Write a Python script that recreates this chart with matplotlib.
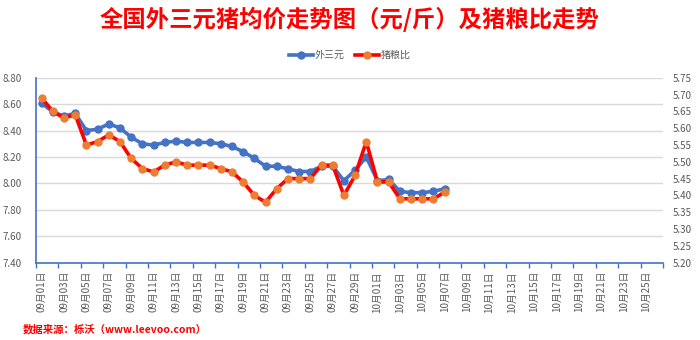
import matplotlib
matplotlib.use("Agg")
import matplotlib.pyplot as plt
import pandas as pd

plt.rcParams['font.family'] = ['Noto Sans CJK SC', 'DejaVu Sans']

# Category axis: every day from 1 Sep to 26 Oct
dates = pd.date_range("2023-09-01", "2023-10-26", freq="D")
categories = [f"{d.month:02d}月{d.day:02d}日" for d in dates]

# 外三元 average price (元/斤), 09-01 .. 10-07
price = [8.61, 8.54, 8.51, 8.53, 8.40, 8.41, 8.45, 8.42, 8.35, 8.30,
         8.29, 8.31, 8.32, 8.31, 8.31, 8.31, 8.30, 8.28, 8.24, 8.19,
         8.13, 8.13, 8.11, 8.09, 8.09, 8.13, 8.13, 8.02, 8.10, 8.20,
         8.02, 8.03, 7.94, 7.93, 7.93, 7.94, 7.96]

# 猪粮比 (hog-to-grain ratio), same days
ratio = [5.69, 5.65, 5.63, 5.64, 5.55, 5.56, 5.58, 5.56, 5.51, 5.48,
         5.47, 5.49, 5.50, 5.49, 5.49, 5.49, 5.48, 5.47, 5.44, 5.40,
         5.38, 5.42, 5.45, 5.45, 5.45, 5.49, 5.49, 5.40, 5.46, 5.56,
         5.44, 5.44, 5.39, 5.39, 5.39, 5.39, 5.41]

left_ticks = [7.40, 7.60, 7.80, 8.00, 8.20, 8.40, 8.60, 8.80]
right_ticks = [5.20, 5.25, 5.30, 5.35, 5.40, 5.45, 5.50, 5.55, 5.60, 5.65, 5.70, 5.75]

BLUE = "#4472C4"
RED = "#FF0000"
ORANGE = "#ED7D31"
GRID = "#D9D9D9"
TXT = "#595959"

fig = plt.figure(figsize=(7, 3.4), dpi=100)
ax = fig.add_axes([36 / 700, 1 - 262.7 / 340, 627 / 700, 185 / 340])
ax2 = ax.twinx()

x_price = list(range(len(price)))
x_ratio = list(range(len(ratio)))

l1, = ax.plot(x_price, price, color=BLUE, lw=2.6, marker="o", ms=5,
              mfc=BLUE, mec=BLUE, label="外三元", zorder=3)
l2, = ax2.plot(x_ratio, ratio, color=RED, lw=2.6, marker="o", ms=5,
               mfc=ORANGE, mec=ORANGE, label="猪粮比", zorder=3)

# left axis
ax.set_ylim(left_ticks[0], left_ticks[-1])
ax.set_yticks(left_ticks)
ax.set_yticklabels([f"{v:.2f}" for v in left_ticks])
ax.yaxis.grid(True, color=GRID, lw=1)
ax.set_axisbelow(True)
ax.tick_params(axis="y", length=0, labelsize=7, labelcolor=TXT, pad=10)

# right axis
ax2.set_ylim(right_ticks[0], right_ticks[-1])
ax2.set_yticks(right_ticks)
ax2.set_yticklabels([f"{v:.2f}" for v in right_ticks])
ax2.tick_params(axis="y", length=0, labelsize=7, labelcolor=TXT, pad=7)

# category axis
n = len(categories)
ax.set_xlim(-0.5, n - 0.5)
ax.set_xticks(range(0, n, 2))
ax.set_xticklabels(categories[::2], rotation=90)
ax.set_xticks([i - 0.5 for i in range(0, n + 1, 2)], minor=True)
ax.tick_params(axis="x", which="major", length=0, labelsize=7,
               labelcolor=TXT, pad=6)
ax.tick_params(axis="x", which="minor", length=3.5, color=BLUE, width=1,
               direction="out")

for a in (ax, ax2):
    for s in ("top", "right"):
        a.spines[s].set_visible(False)
ax2.spines["left"].set_visible(False)
ax2.spines["bottom"].set_visible(False)
ax.spines["left"].set_color(BLUE)
ax.spines["bottom"].set_color(BLUE)
ax.spines["left"].set_linewidth(1.2)
ax.spines["bottom"].set_linewidth(1.2)

fig.text(0.5, 1 - 19 / 340, "全国外三元猪均价走势图（元/斤）及猪粮比走势",
         ha="center", va="center", color=RED, fontsize=16.8, fontweight="bold")

fig.legend(handles=[l1, l2], loc="center", bbox_to_anchor=(0.5, 1 - 55 / 340),
           ncol=2, frameon=False, fontsize=7.2, labelcolor=TXT,
           handlelength=2.4, columnspacing=1.0, handletextpad=0.2,
           markerscale=1.0)

fig.text(23 / 700, 1 - 329 / 340, "数据来源：栎沃（www.leevoo.com）",
         ha="left", va="center", color=RED, fontsize=7.5, fontweight="bold")

fig.savefig("out.png", dpi=100)
